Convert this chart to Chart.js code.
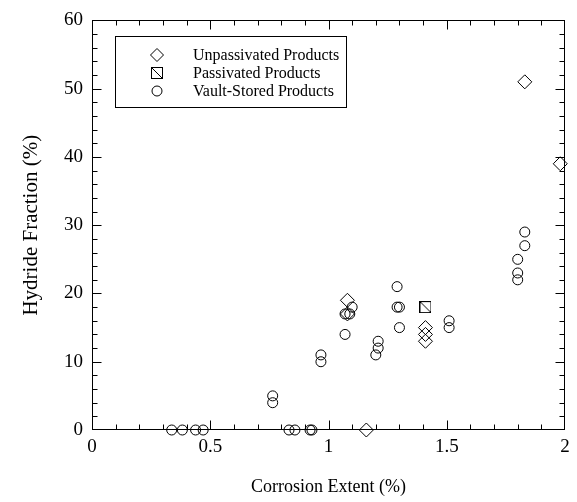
<!DOCTYPE html>
<html>
<head>
<meta charset="utf-8">
<script src="https://cdn.jsdelivr.net/npm/chart.js@4/dist/chart.umd.min.js"></script>
<style>
html,body{margin:0;padding:0;background:#fff;}
#wrap{width:577px;height:502px;position:relative;}
</style>
</head>
<body>
<div id="wrap"><canvas id="c" width="577" height="502"></canvas></div>
<script>
// ---- data ----
const unpassX = [1.83, 1.98, 1.08, 1.08, 1.41, 1.41, 1.41, 1.16];
const unpassY = [51, 39, 19, 17, 15, 14, 13, 0];

const passX = [1.41];
const passY = [18];

const vaultX = [0.337, 0.382, 0.438, 0.470, 0.833, 0.858, 0.922, 0.930,
                0.764, 0.764, 0.968, 0.968, 1.07, 1.07, 1.09, 1.10,
                1.20, 1.21, 1.21, 1.29, 1.29, 1.30, 1.30, 1.51, 1.51,
                1.80, 1.80, 1.80, 1.83, 1.83];
const vaultY = [0, 0, 0, 0, 0, 0, 0, 0,
                5, 4, 11, 10, 14, 17, 17, 18,
                11, 12, 13, 21, 18, 18, 15, 16, 15,
                25, 23, 22, 29, 27];

const seriesLabels = ['Unpassivated Products', 'Passivated Products', 'Vault-Stored Products'];
const xTicks = [0, 0.5, 1, 1.5, 2];
const yTicks = [0, 10, 20, 30, 40, 50, 60];
const xTitle = 'Corrosion Extent (%)';
const yTitle = 'Hydride Fraction (%)';

// ---- helpers ----
const toPts = (xs, ys) => xs.map((x, i) => ({x: x, y: ys[i]}));
const FONT = "'Liberation Serif', 'Times New Roman', serif";

// square with diagonal marker
const sq = document.createElement('canvas');
sq.width = 12; sq.height = 12;
(function(){
  const g = sq.getContext('2d');
  g.strokeStyle = '#000'; g.lineWidth = 1;
  g.strokeRect(0.5, 0.5, 11, 11);
  g.beginPath(); g.moveTo(0.5, 0.5); g.lineTo(11.5, 11.5); g.stroke();
})();

function drawDiamond(ctx, x, y, r) {
  ctx.beginPath();
  ctx.moveTo(x, y - r); ctx.lineTo(x + r, y); ctx.lineTo(x, y + r); ctx.lineTo(x - r, y); ctx.closePath();
  ctx.stroke();
}
function drawCircle(ctx, x, y, r) {
  ctx.beginPath(); ctx.arc(x, y, r, 0, Math.PI * 2); ctx.stroke();
}

const framePlugin = {
  id: 'frame',
  afterDraw(chart) {
    const ctx = chart.ctx;
    const a = chart.chartArea;
    const xs = chart.scales.x, ys = chart.scales.y;
    ctx.save();
    ctx.strokeStyle = '#000';
    ctx.lineWidth = 1;
    const L = Math.round(a.left) + 0.5, R = Math.round(a.right) - 0.5;
    const T = Math.round(a.top) + 0.5, B = Math.round(a.bottom) - 0.5;
    ctx.strokeRect(L, T, R - L, B - T);
    ctx.beginPath();
    // x ticks (minor every 0.1, major every 0.5)
    for (let i = 1; i < 20; i++) {
      const v = i / 10;
      const px = Math.round(xs.getPixelForValue(v)) + 0.5;
      const len = (i % 5 === 0) ? 9 : 5;
      ctx.moveTo(px, B); ctx.lineTo(px, B - len);
      ctx.moveTo(px, T); ctx.lineTo(px, T + len);
    }
    // y ticks (minor every 2, major every 10)
    for (let i = 1; i < 30; i++) {
      const v = i * 2;
      const py = Math.round(ys.getPixelForValue(v)) + 0.5;
      const len = (v % 10 === 0) ? 9 : 5;
      ctx.moveTo(L, py); ctx.lineTo(L + len, py);
      ctx.moveTo(R, py); ctx.lineTo(R - len, py);
    }
    ctx.stroke();

    // legend box
    const bx = 115.5, by = 36.5, bw = 231, bh = 71;
    ctx.strokeRect(bx, by, bw, bh);
    ctx.fillStyle = '#000';
    ctx.font = '16px ' + FONT;
    ctx.textBaseline = 'middle';
    ctx.textAlign = 'left';
    const rows = [55, 73, 91];
    const mx = 157, tx = 193;
    drawDiamond(ctx, mx, rows[0], 6.5);
    ctx.drawImage(sq, mx - 6, rows[1] - 6);
    drawCircle(ctx, mx, rows[2], 5);
    seriesLabels.forEach((t, i) => ctx.fillText(t, tx, rows[i] + 1));
    ctx.restore();
  }
};

new Chart(document.getElementById('c'), {
  type: 'scatter',
  data: {
    datasets: [
      { label: seriesLabels[0], data: toPts(unpassX, unpassY), pointStyle: 'rectRot',
        pointRadius: 7, pointHoverRadius: 7, borderColor: '#000', backgroundColor: 'rgba(0,0,0,0)',
        borderWidth: 1, clip: false },
      { label: seriesLabels[1], data: toPts(passX, passY), pointStyle: sq,
        pointRadius: 6, borderColor: '#000', backgroundColor: 'rgba(0,0,0,0)', borderWidth: 1, clip: false },
      { label: seriesLabels[2], data: toPts(vaultX, vaultY), pointStyle: 'circle',
        pointRadius: 5, pointHoverRadius: 5, borderColor: '#000', backgroundColor: 'rgba(0,0,0,0)',
        borderWidth: 1, clip: false }
    ]
  },
  options: {
    responsive: false,
    animation: false,
    devicePixelRatio: 1,
    layout: { padding: { left: 0, right: 12, top: 17, bottom: 0 } },
    plugins: { legend: { display: false }, tooltip: { enabled: false } },
    scales: {
      x: {
        type: 'linear', min: 0, max: 2,
        afterBuildTicks: s => { s.ticks = xTicks.map(v => ({value: v})); },
        afterFit: s => { s.height = 72; },
        ticks: { color: '#000', font: { family: FONT, size: 19 }, padding: 6,
                 callback: v => String(v), maxRotation: 0, autoSkip: false },
        grid: { display: false, drawTicks: false },
        border: { display: false },
        title: { display: true, text: xTitle, color: '#000', font: { family: FONT, size: 18 },
                 padding: { top: 0, bottom: 4 } }
      },
      y: {
        type: 'linear', min: 0, max: 60,
        afterBuildTicks: s => { s.ticks = yTicks.map(v => ({value: v})); },
        afterFit: s => { s.width = 92; },
        ticks: { color: '#000', font: { family: FONT, size: 19 }, padding: 9, autoSkip: false },
        grid: { display: false, drawTicks: false },
        border: { display: false },
        title: { display: true, text: yTitle, color: '#000', font: { family: FONT, size: 21 },
                 padding: { top: 19, bottom: 0 } }
      }
    }
  },
  plugins: [framePlugin]
});
</script>
</body>
</html>
